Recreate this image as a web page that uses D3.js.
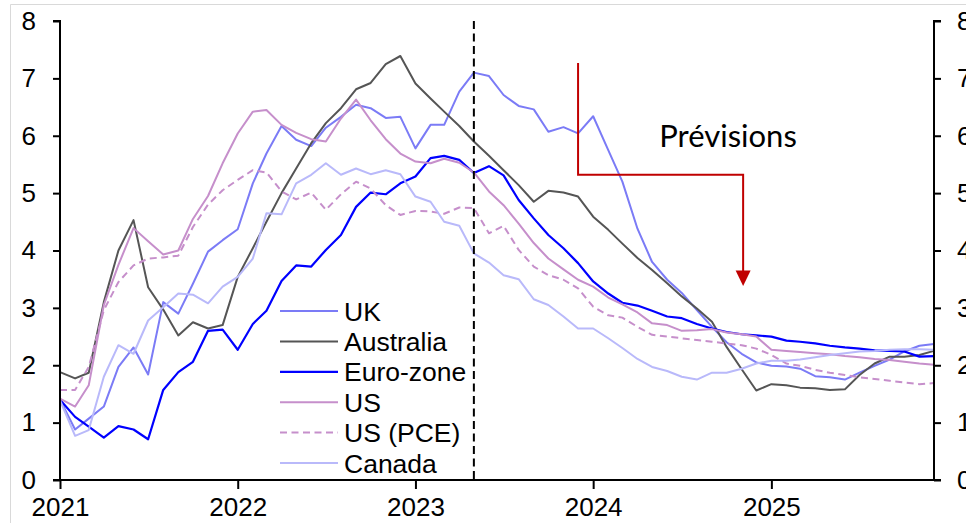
<!DOCTYPE html>
<html>
<head>
<meta charset="utf-8">
<script src="https://cdn.jsdelivr.net/npm/d3@7"></script>
<style>
  html, body { margin: 0; padding: 0; background: #fff; }
  svg { display: block; }
</style>
</head>
<body>
<svg id="chart" width="966" height="523"></svg>
<script>
// Core inflation, % y/y, monthly Jan 2021 – Dec 2025 (forecasts after May 2023)
const startYear = 2021;
const monthCount = 60;

const uk = [1.4,0.88,1.07,1.28,1.97,2.31,1.84,3.1,2.9,3.42,3.98,4.18,4.37,5.17,5.69,6.17,5.93,5.82,6.14,6.33,
  6.54,6.48,6.31,6.33,5.78,6.19,6.19,6.77,7.1,7.04,6.71,6.52,6.46,6.07,6.15,6.04,6.34,5.75,5.2,4.38,
  3.8,3.49,3.26,2.96,2.67,2.4,2.2,2.05,1.99,1.98,1.94,1.81,1.79,1.75,1.87,1.99,2.1,2.24,2.34,2.37];

const australia = [1.88,1.77,1.87,3.1,4.0,4.53,3.36,2.97,2.52,2.75,2.64,2.7,3.54,4.04,4.5,5.0,5.43,5.87,6.22,6.48,
  6.81,6.92,7.25,7.39,6.91,6.65,6.42,6.17,5.9,5.65,5.4,5.14,4.85,5.04,5.01,4.94,4.59,4.36,4.12,3.87,
  3.66,3.43,3.2,2.99,2.76,2.32,1.93,1.56,1.67,1.65,1.61,1.6,1.57,1.58,1.83,2.03,2.15,2.15,2.18,2.25];

const euroZone = [1.4,1.1,0.93,0.74,0.94,0.88,0.71,1.57,1.88,2.06,2.6,2.62,2.27,2.72,2.95,3.47,3.74,3.72,4.01,4.27,
  4.76,5.01,4.98,5.17,5.29,5.61,5.65,5.58,5.35,5.47,5.31,4.88,4.56,4.27,4.04,3.78,3.46,3.25,3.09,3.04,
  2.95,2.85,2.82,2.72,2.64,2.58,2.54,2.52,2.5,2.43,2.41,2.38,2.34,2.31,2.29,2.26,2.25,2.24,2.15,2.16];

const us = [1.42,1.28,1.65,3.05,3.75,4.39,4.16,3.93,4.0,4.55,4.95,5.52,6.04,6.42,6.45,6.19,6.05,5.94,5.9,6.3,
  6.63,6.27,5.94,5.69,5.55,5.52,5.6,5.53,5.36,5.03,4.79,4.47,4.13,3.86,3.67,3.49,3.37,3.18,3.06,2.92,
  2.73,2.7,2.6,2.61,2.63,2.57,2.54,2.5,2.27,2.25,2.23,2.21,2.19,2.16,2.14,2.11,2.09,2.06,2.03,2.01];

const usPce = [1.57,1.57,1.97,2.96,3.45,3.74,3.86,3.88,3.91,4.41,4.8,5.05,5.23,5.4,5.36,5.03,4.89,5.01,4.71,4.98,
  5.2,5.08,4.79,4.62,4.69,4.68,4.64,4.75,4.74,4.3,4.43,4.01,3.72,3.57,3.49,3.34,3.02,2.87,2.83,2.67,
  2.53,2.5,2.47,2.44,2.41,2.38,2.35,2.29,2.18,2.03,1.99,1.92,1.87,1.83,1.79,1.76,1.73,1.7,1.67,1.69];

const canada = [1.39,0.77,0.87,1.8,2.35,2.2,2.78,3.01,3.25,3.23,3.08,3.37,3.54,3.86,4.65,4.63,5.17,5.32,5.52,5.32,
  5.43,5.33,5.4,5.33,4.94,4.85,4.5,4.43,3.95,3.79,3.57,3.5,3.15,3.05,2.85,2.64,2.64,2.47,2.3,2.11,
  1.97,1.9,1.8,1.75,1.87,1.87,1.94,2.03,2.08,2.08,2.1,2.14,2.18,2.21,2.24,2.25,2.27,2.28,2.28,2.27];

const seriesNames = ["UK", "Australia", "Euro-zone", "US", "US (PCE)", "Canada"];
const yTicks = [0, 1, 2, 3, 4, 5, 6, 7, 8];
const xTickYears = [2021, 2022, 2023, 2024, 2025];

// Forecast marker and annotation, in data units
const forecastStart = new Date(2023, 4, 1);
const annotationLabel = "Prévisions";
const arrowPath = [
  { date: new Date(2023, 11, 1), value: 7.27 },
  { date: new Date(2023, 11, 1), value: 5.32 },
  { date: new Date(2024, 10, 4), value: 5.32 },
  { date: new Date(2024, 10, 4), value: 3.38 }
];
const labelAnchor = { date: new Date(2024, 9, 4), value: 5.8 };

const months = d3.range(monthCount).map(i => new Date(startYear, i, 1));

const styles = {
  "UK":        { color: "#7b7bf6", width: 2,   dash: null },
  "Australia": { color: "#555555", width: 2,   dash: null },
  "Euro-zone": { color: "#0000ff", width: 2.2, dash: null },
  "US":        { color: "#c68fcb", width: 2,   dash: null },
  "US (PCE)":  { color: "#c68fcb", width: 2,   dash: "7,4.5" },
  "Canada":    { color: "#b9b9fa", width: 2,   dash: null }
};
const valuesByName = {
  "UK": uk, "Australia": australia, "Euro-zone": euroZone,
  "US": us, "US (PCE)": usPce, "Canada": canada
};

const svg = d3.select("#chart");
const plot = { left: 60, right: 934, top: 21, bottom: 480 };

const x = d3.scaleTime()
  .domain([months[0], months[monthCount - 1]])
  .range([plot.left, plot.right]);
const y = d3.scaleLinear().domain([0, 8]).range([plot.bottom, plot.top]);

const font = "'Liberation Sans', Arial, sans-serif";

// outer frame (top and left edges only visible)
svg.append("path")
  .attr("d", "M10.5,530 V4.5 H980")
  .attr("fill", "none")
  .attr("stroke", "#d9d9d9")
  .attr("stroke-width", 1);

// series lines
const line = d3.line()
  .x((d, i) => x(months[i]))
  .y(d => y(d));

seriesNames.forEach(name => {
  const s = styles[name];
  svg.append("path")
    .datum(valuesByName[name])
    .attr("d", line)
    .attr("fill", "none")
    .attr("stroke", s.color)
    .attr("stroke-width", s.width)
    .attr("stroke-linejoin", "round")
    .attr("stroke-dasharray", s.dash);
});

// forecast start marker
svg.append("line")
  .attr("x1", x(forecastStart)).attr("x2", x(forecastStart))
  .attr("y1", y(8)).attr("y2", y(0))
  .attr("stroke", "#000")
  .attr("stroke-width", 2)
  .attr("stroke-dasharray", "8,4.5");

// axes
const xAxis = d3.axisBottom(x)
  .tickValues(xTickYears.map(yr => new Date(yr, 0, 1)))
  .tickFormat(d3.timeFormat("%Y"))
  .tickSize(9)
  .tickPadding(9);
const yAxisLeft = d3.axisLeft(y).tickValues(yTicks).tickSize(7).tickPadding(17);
const yAxisRight = d3.axisRight(y).tickValues(yTicks).tickSize(7).tickPadding(16);

function styleAxis(g) {
  g.selectAll("path.domain").attr("stroke", "#000").attr("stroke-width", 2);
  g.selectAll(".tick line").attr("stroke", "#000").attr("stroke-width", 2);
  g.selectAll(".tick text")
    .attr("fill", "#000")
    .style("font-family", font)
    .style("font-size", "26px");
}

svg.append("g").attr("transform", `translate(${plot.left},0)`).call(yAxisLeft)
  .call(g => g.select(".domain").attr("d", `M-7,${plot.top}H0V${plot.bottom}H-7`))
  .call(styleAxis);
svg.append("g").attr("transform", `translate(${plot.right},0)`).call(yAxisRight)
  .call(g => g.select(".domain").attr("d", `M7,${plot.top}H0V${plot.bottom}H7`))
  .call(styleAxis);
svg.append("g").attr("transform", `translate(0,${plot.bottom})`).call(xAxis)
  .call(g => g.select(".domain").attr("d", `M${plot.left},0H${plot.right}`))
  .call(styleAxis);

// legend
const legend = svg.append("g");
seriesNames.forEach((name, i) => {
  const s = styles[name];
  const ly = 311 + i * 30.4;
  legend.append("line")
    .attr("x1", 280).attr("x2", 338)
    .attr("y1", ly).attr("y2", ly)
    .attr("stroke", s.color)
    .attr("stroke-width", s.width)
    .attr("stroke-dasharray", s.dash);
  legend.append("text")
    .attr("x", 344).attr("y", ly)
    .attr("dy", "0.36em")
    .style("font-family", font)
    .style("font-size", "26.5px")
    .attr("fill", "#000")
    .text(name);
});

// forecast annotation arrow
const arrowLine = d3.line().x(d => x(d.date)).y(d => y(d.value));
const tip = arrowPath[arrowPath.length - 1];
const tipX = x(tip.date), tipY = y(tip.value);
svg.append("path")
  .attr("d", arrowLine(arrowPath.slice(0, -1).concat([{ date: tip.date, value: y.invert(tipY - 12) }])))
  .attr("fill", "none")
  .attr("stroke", "#c00000")
  .attr("stroke-width", 2);
svg.append("path")
  .attr("d", `M${tipX - 7.5},${tipY - 15.5} L${tipX + 7.5},${tipY - 15.5} L${tipX},${tipY} Z`)
  .attr("fill", "#c00000");

svg.append("text")
  .attr("x", x(labelAnchor.date))
  .attr("y", y(labelAnchor.value))
  .attr("text-anchor", "middle")
  .style("font-family", "Lato, 'Open Sans', sans-serif")
  .style("font-size", "31px")
  .attr("fill", "#000")
  .text(annotationLabel);
</script>
</body>
</html>
